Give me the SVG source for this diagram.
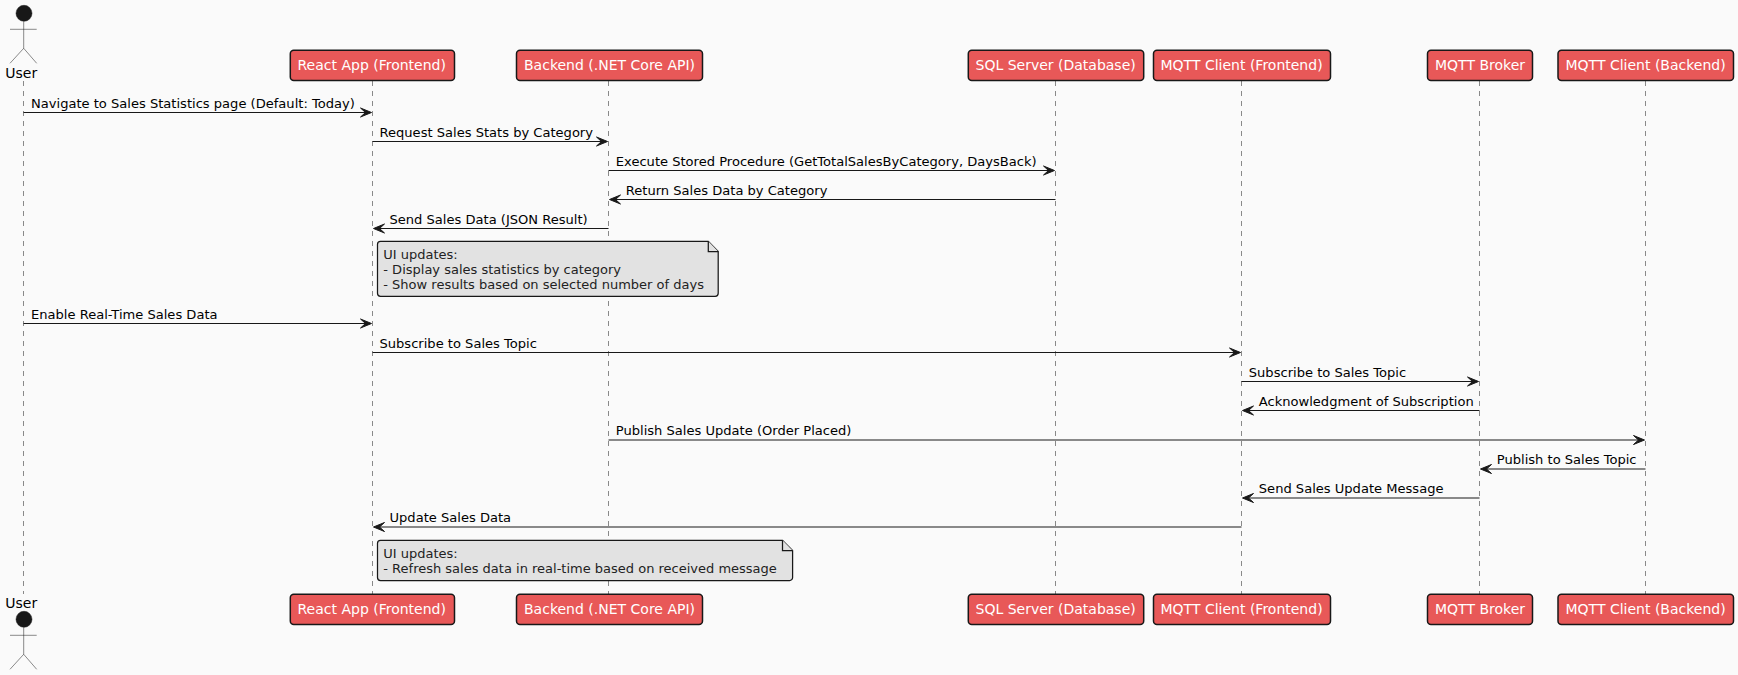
<svg xmlns="http://www.w3.org/2000/svg" width="1738" height="675" viewBox="0 0 1738 675">
<defs>
<path id="ar" d="M0 0L-11 -4.5L-6 0L-11 4.5Z"/>
<path id="al" d="M0 0L11 -4.5L6 0L11 4.5Z"/>
</defs>
<style>
text{font-family:"DejaVu Sans",sans-serif;fill:#000}
.msg{font-size:13.07px}
.life{stroke:#181818;stroke-width:.5;stroke-dasharray:5 5;fill:none}
.box{fill:#E85858;stroke:#181818;stroke-width:1.5}
.lbl{font-size:14px;fill:#fff}
.act{font-size:14px}
.head{fill:#181818;stroke:#181818;stroke-width:.5}
.stick{fill:none;stroke:#181818;stroke-width:.5}
.note{fill:#E2E2E2;stroke:#181818;stroke-width:1.25}
.ntext{font-size:13px;fill:#222}
.ln{stroke:#181818;stroke-width:1;fill:none}
use{fill:#181818;stroke:#181818;stroke-width:1}
</style>
<rect width="1738" height="675" fill="#FAFAFA"/>
<g id="lifelines">
<line class="life" x1="23.5" y1="81" x2="23.5" y2="594"/>
<line class="life" x1="372.5" y1="81" x2="372.5" y2="594"/>
<line class="life" x1="608.5" y1="81" x2="608.5" y2="594"/>
<line class="life" x1="1055.5" y1="81" x2="1055.5" y2="594"/>
<line class="life" x1="1241.5" y1="81" x2="1241.5" y2="594"/>
<line class="life" x1="1479.5" y1="81" x2="1479.5" y2="594"/>
<line class="life" x1="1645.5" y1="81" x2="1645.5" y2="594"/>
</g>
<g id="user-top">
<ellipse class="head" cx="24" cy="13.3" rx="8" ry="8"/>
<path class="stick" d="M23.7 21.3V48.3M10 29.3H36.7M23.7 48.3L10 63.3M23.7 48.3L36.7 63.3"/>
<text class="act" x="5.3" y="77.8">User</text>
</g>
<g id="user-bottom">
<ellipse class="head" cx="24" cy="619.3" rx="8" ry="8"/>
<path class="stick" d="M23.7 627.3V654.3M10 635.3H36.7M23.7 654.3L10 669.3M23.7 654.3L36.7 669.3"/>
<text class="act" x="5.3" y="608.3">User</text>
</g>
<g id="react-top"><rect class="box" x="290.3" y="50.3" width="164.2" height="30.2" rx="3.5"/><text class="lbl" x="297.5" y="70">React App (Frontend)</text></g>
<g id="backend-top"><rect class="box" x="516.5" y="50.3" width="186" height="30.2" rx="3.5"/><text class="lbl" x="524" y="70">Backend (.NET Core API)</text></g>
<g id="sql-top"><rect class="box" x="968.3" y="50.3" width="175.4" height="30.2" rx="3.5"/><text class="lbl" x="975.5" y="70">SQL Server (Database)</text></g>
<g id="mqttfe-top"><rect class="box" x="1153.5" y="50.3" width="177" height="30.2" rx="3.5"/><text class="lbl" x="1160.5" y="70">MQTT Client (Frontend)</text></g>
<g id="broker-top"><rect class="box" x="1427.5" y="50.3" width="105" height="30.2" rx="3.5"/><text class="lbl" x="1435" y="70">MQTT Broker</text></g>
<g id="mqttbe-top"><rect class="box" x="1558" y="50.3" width="175.5" height="30.2" rx="3.5"/><text class="lbl" x="1565.5" y="70">MQTT Client (Backend)</text></g>
<g id="react-bottom"><rect class="box" x="290.3" y="594.3" width="164.2" height="30.2" rx="3.5"/><text class="lbl" x="297.5" y="614">React App (Frontend)</text></g>
<g id="backend-bottom"><rect class="box" x="516.5" y="594.3" width="186" height="30.2" rx="3.5"/><text class="lbl" x="524" y="614">Backend (.NET Core API)</text></g>
<g id="sql-bottom"><rect class="box" x="968.3" y="594.3" width="175.4" height="30.2" rx="3.5"/><text class="lbl" x="975.5" y="614">SQL Server (Database)</text></g>
<g id="mqttfe-bottom"><rect class="box" x="1153.5" y="594.3" width="177" height="30.2" rx="3.5"/><text class="lbl" x="1160.5" y="614">MQTT Client (Frontend)</text></g>
<g id="broker-bottom"><rect class="box" x="1427.5" y="594.3" width="105" height="30.2" rx="3.5"/><text class="lbl" x="1435" y="614">MQTT Broker</text></g>
<g id="mqttbe-bottom"><rect class="box" x="1558" y="594.3" width="175.5" height="30.2" rx="3.5"/><text class="lbl" x="1565.5" y="614">MQTT Client (Backend)</text></g>
<g id="note-1">
<path class="note" d="M380.5 241.3H708.3L718.2 251.5V293.3A3 3 0 0 1 715.2 296.3H380.5A3 3 0 0 1 377.5 293.3V244.3A3 3 0 0 1 380.5 241.3Z"/>
<path class="note" d="M708.3 241.3V251.5H718.2" fill="none"/>
<text class="ntext" x="383.3" y="259.3">UI updates:</text>
<text class="ntext" x="383.3" y="274.3">- Display sales statistics by category</text>
<text class="ntext" x="383.3" y="289.2">- Show results based on selected number of days</text>
</g>
<g id="note-2">
<path class="note" d="M380.5 540.3H782.5L792.6 550.5V577.5A3 3 0 0 1 789.6 580.5H380.5A3 3 0 0 1 377.5 577.5V543.3A3 3 0 0 1 380.5 540.3Z"/>
<path class="note" d="M782.5 540.3V550.5H792.6" fill="none"/>
<text class="ntext" x="383.3" y="557.8">UI updates:</text>
<text class="ntext" x="383.3" y="572.8">- Refresh sales data in real-time based on received message</text>
</g>
<g id="connectors">
<line class="ln" x1="23.5" y1="112.5" x2="366" y2="112.5"/><use href="#ar" x="371.5" y="112.5"/>
<line class="ln" x1="372.5" y1="141.5" x2="602" y2="141.5"/><use href="#ar" x="607.5" y="141.5"/>
<line class="ln" x1="608.5" y1="170.5" x2="1049" y2="170.5"/><use href="#ar" x="1054.5" y="170.5"/>
<line class="ln" x1="615" y1="199.5" x2="1055.5" y2="199.5"/><use href="#al" x="609.5" y="199.5"/>
<line class="ln" x1="379" y1="228.5" x2="608.5" y2="228.5"/><use href="#al" x="373.5" y="228.5"/>
<line class="ln" x1="23.5" y1="323.5" x2="366" y2="323.5"/><use href="#ar" x="371.5" y="323.5"/>
<line class="ln" x1="372.5" y1="352.5" x2="1235" y2="352.5"/><use href="#ar" x="1240.5" y="352.5"/>
<line class="ln" x1="1241.5" y1="381.5" x2="1473" y2="381.5"/><use href="#ar" x="1478.5" y="381.5"/>
<line class="ln" x1="1248" y1="410.5" x2="1479.5" y2="410.5"/><use href="#al" x="1242.5" y="410.5"/>
<line class="ln" x1="608.5" y1="440" x2="1639" y2="440"/><use href="#ar" x="1644.5" y="440"/>
<line class="ln" x1="1486" y1="469" x2="1645.5" y2="469"/><use href="#al" x="1480.5" y="469"/>
<line class="ln" x1="1248" y1="498" x2="1479.5" y2="498"/><use href="#al" x="1242.5" y="498"/>
<line class="ln" x1="379" y1="527" x2="1241.5" y2="527"/><use href="#al" x="373.5" y="527"/>
</g>
<g id="labels">
<text class="msg" x="31" y="107.6">Navigate to Sales Statistics page (Default: Today)</text>
<text class="msg" x="379.5" y="136.6">Request Sales Stats by Category</text>
<text class="msg" x="615.8" y="165.6">Execute Stored Procedure (GetTotalSalesByCategory, DaysBack)</text>
<text class="msg" x="625.8" y="194.6">Return Sales Data by Category</text>
<text class="msg" x="389.5" y="223.6">Send Sales Data (JSON Result)</text>
<text class="msg" x="31" y="318.6">Enable Real-Time Sales Data</text>
<text class="msg" x="379.5" y="347.6">Subscribe to Sales Topic</text>
<text class="msg" x="1248.8" y="376.6">Subscribe to Sales Topic</text>
<text class="msg" x="1258.8" y="405.6">Acknowledgment of Subscription</text>
<text class="msg" x="615.8" y="435">Publish Sales Update (Order Placed)</text>
<text class="msg" x="1496.8" y="464">Publish to Sales Topic</text>
<text class="msg" x="1258.8" y="493">Send Sales Update Message</text>
<text class="msg" x="389.5" y="522">Update Sales Data</text>
</g>
</svg>
